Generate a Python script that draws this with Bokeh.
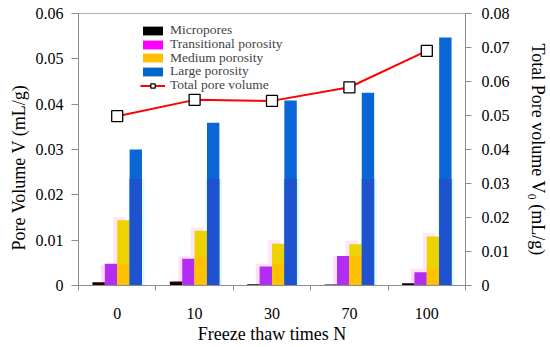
import math
from bokeh.plotting import figure
from bokeh.models import (Range1d, LinearAxis, FixedTicker, Legend, LegendItem,
                          Title, ColumnDataSource)
from bokeh.embed import file_html
from bokeh.resources import INLINE

# ---- data ----
categories = ["0", "10", "30", "70", "100"]
micropores = [0.0007, 0.0009, 0.0003, 0.0002, 0.0005]
transitional = [0.0048, 0.0059, 0.0042, 0.0065, 0.0029]
medium = [0.0144, 0.0121, 0.0092, 0.0091, 0.0108]
large = [0.0300, 0.0359, 0.0408, 0.0425, 0.0547]
total = [0.0498, 0.0546, 0.0543, 0.0583, 0.0690]
# faint "ghost" bars seen behind the bars
ghost_trans = [0.0046, 0.0064, 0.0048, 0.0065, 0.0037]
ghost_medium = [0.0151, 0.0128, 0.0100, 0.0098, 0.0115]
ghost_large = [0.0235, 0.0235, 0.0235, 0.0235, 0.0235]

left_ticks = [0, 0.01, 0.02, 0.03, 0.04, 0.05, 0.06]
right_ticks = [0, 0.01, 0.02, 0.03, 0.04, 0.05, 0.06, 0.07, 0.08]

legend_labels = ["Micropores", "Transitional porosity", "Medium porosity",
                 "Large porosity", "Total pore volume"]

FONT = "'Liberation Serif'"
AXIS_GRAY = "#8c8c8c"

n = len(categories)
centers = [i + 0.5 for i in range(n)]
bw = 0.16
offs = [-0.24, -0.08, 0.08, 0.24]

p = figure(width=550, height=347, output_backend="svg", toolbar_location=None,
           x_range=Range1d(0, n), y_range=Range1d(0, 0.06),
           min_border_left=78, min_border_right=78, min_border_top=13,
           min_border_bottom=62, background_fill_color="white",
           border_fill_color="white")
p.extra_y_ranges = {"right": Range1d(0, 0.08)}
p.xgrid.visible = False
p.ygrid.visible = False
p.outline_line_color = "#b0b0b0"

# ghost bars
p.vbar(x=[c + offs[1] - 0.05 for c in centers], top=ghost_trans, width=bw,
       fill_color="#ffe0fb", line_color=None)
p.vbar(x=[c + offs[2] - 0.05 for c in centers], top=ghost_medium, width=bw,
       fill_color="#fde6f7", line_color=None)
p.vbar(x=[c + offs[3] + 0.01 for c in centers], top=ghost_large, width=0.21,
       fill_color="#dcfcfc", line_color=None)

# main bars
src_bars = ColumnDataSource(dict(
    xm=[c + offs[0] for c in centers], xt=[c + offs[1] for c in centers],
    xd=[c + offs[2] for c in centers], xl=[c + offs[3] for c in centers],
    micro=micropores, trans=transitional, med=medium, large=large))
p.vbar(x="xm", top="micro", width=bw, source=src_bars,
       fill_color="#1a0202", line_color=None)
p.vbar(x="xt", top="trans", width=bw, source=src_bars,
       fill_color="#b22cf2", line_color=None)
p.vbar(x="xd", top="med", width=bw, source=src_bars,
       fill_color="#ecd200", line_color=None)
p.vbar(x=[c + offs[2] for c in centers],
       top=[min(a, b) for a, b in zip(ghost_trans, medium)], width=bw,
       fill_color="#ffc000", line_color=None)
p.vbar(x="xl", top="large", width=bw, source=src_bars,
       fill_color="#0a66d4", line_color=None)
p.vbar(x=[c + offs[3] for c in centers],
       top=[min(a, b) for a, b in zip(ghost_large, large)], width=bw,
       fill_color="#1f52cf", line_color=None)

# total pore volume line
src = ColumnDataSource(dict(x=centers, y=total))
ln = p.line("x", "y", source=src, y_range_name="right", line_color="#ff0000",
            line_width=2)
sc = p.scatter("x", "y", source=src, y_range_name="right", marker="square",
               size=11, fill_color="white", line_color="black", line_width=1.3)

# legend proxies (hidden renderers with legend colours)
lg_micro = p.vbar(x="xm", top="micro", width=bw, source=src_bars, fill_color="black", line_color=None, visible=False)
lg_trans = p.vbar(x="xt", top="trans", width=bw, source=src_bars, fill_color="#ff00ff", line_color=None, visible=False)
lg_med = p.vbar(x="xd", top="med", width=bw, source=src_bars, fill_color="#ffc000", line_color=None, visible=False)
lg_large = p.vbar(x="xl", top="large", width=bw, source=src_bars, fill_color="#0066cc", line_color=None, visible=False)
legend_renderers = [[lg_micro], [lg_trans], [lg_med], [lg_large], [ln, sc]]

# one single-row legend per entry, so rows can be packed tightly
row_bottoms = [247, 233, 219.5, 206, 192]
for lab, rends, yb in zip(legend_labels, legend_renderers, row_bottoms):
    lg = Legend(items=[LegendItem(label=lab, renderers=rends)],
                location=(62, yb), padding=0, margin=0, spacing=0,
                label_standoff=5, glyph_width=25, glyph_height=11,
                label_height=11, label_text_font=FONT,
                label_text_font_size="13.5px", background_fill_alpha=0,
                border_line_color=None, inactive_fill_alpha=0,
                click_policy="none")
    p.add_layout(lg, "center")

# x axis
xa = p.xaxis[0]
xa.ticker = FixedTicker(ticks=centers, minor_ticks=[float(i) for i in range(n + 1)])
xa.major_label_overrides = {c: lab for c, lab in zip(centers, categories)}
xa.major_tick_in = 0
xa.major_tick_out = 0
xa.minor_tick_in = 0
xa.minor_tick_out = 5
xa.minor_tick_line_color = AXIS_GRAY
xa.axis_line_color = AXIS_GRAY
xa.major_label_standoff = 17
xa.major_label_text_font = FONT
xa.major_label_text_font_size = "16px"
xa.major_label_text_color = "black"

# left axis
ya = p.yaxis[0]
ya.ticker = FixedTicker(ticks=left_ticks)
ya.major_tick_in = 0
ya.major_tick_out = 7
ya.minor_tick_line_color = None
ya.axis_line_color = AXIS_GRAY
ya.major_tick_line_color = AXIS_GRAY
ya.major_label_standoff = 8
ya.major_label_text_font = FONT
ya.major_label_text_font_size = "16px"
ya.major_label_text_color = "black"

# right axis
ra = LinearAxis(y_range_name="right", ticker=FixedTicker(ticks=right_ticks))
ra.major_tick_in = 0
ra.major_tick_out = 6
ra.minor_tick_line_color = None
ra.axis_line_color = AXIS_GRAY
ra.major_tick_line_color = AXIS_GRAY
ra.major_label_standoff = 10
ra.major_label_text_font = FONT
ra.major_label_text_font_size = "16px"
ra.major_label_text_color = "black"
ra.axis_label = "Total Pore volume V\u2080 (mL/g)"
ra.axis_label_standoff = 15
ra.axis_label_text_font = FONT
ra.axis_label_text_font_size = "18px"
ra.axis_label_text_font_style = "normal"
ra.axis_label_text_color = "black"
p.add_layout(ra, "right")

# left axis title (starts lower, like the reference)
p.add_layout(Title(text="Pore Volume V (mL/g)", align="left", offset=35,
                   standoff=8, text_font=FONT, text_font_size="18px",
                   text_font_style="normal", text_color="black"), "left")

# bottom axis title
p.add_layout(Title(text="Freeze thaw times N", align="center", standoff=0,
                   text_font=FONT, text_font_size="18px",
                   text_font_style="normal", text_color="black"), "below")

open("out.html", "w").write(file_html(p, INLINE))
